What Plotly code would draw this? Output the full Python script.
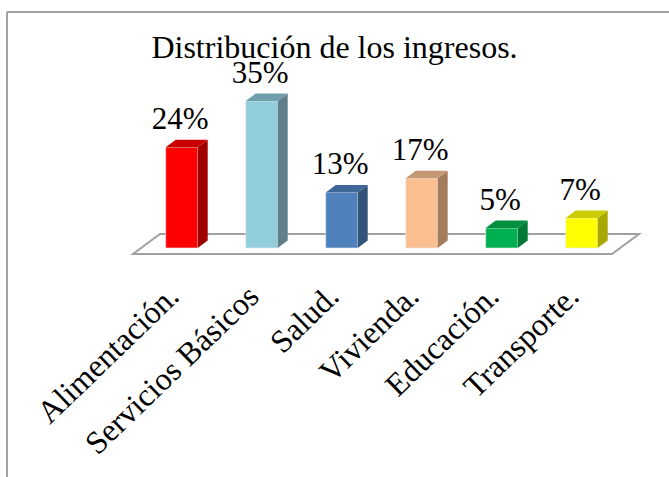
import plotly.graph_objects as go

categorias = ["Alimentación.", "Servicios Básicos", "Salud.", "Vivienda.", "Educación.", "Transporte."]
valores = [24.3, 35.4, 13.4, 16.8, 4.8, 7.2]
etiquetas = ["24%", "35%", "13%", "17%", "5%", "7%"]
frente = ["#FF0000", "#92CDDC", "#4F81BD", "#FBBF8F", "#00B050", "#FFFF00"]
lado = ["#A00000", "#5F8089", "#335378", "#A47C5C", "#007A37", "#A8A800"]
tapa = ["#C80000", "#6F9FAD", "#3F6797", "#C49872", "#009040", "#CCCC00"]

ANCHO = 669
ALTO = 477
FONDO_PLOT = 270
FUENTE = "Liberation Serif"
# pixeles por unidad en cada eje
PX_X = 80
PX_Y = 4.15
X0 = 181.7
Y0 = 248
MEDIO = 0.2
DX = 10 / PX_X
DY = 7.5 / PX_Y
SEP_TEXTO = 3 / PX_Y

fig = go.Figure()
pos = list(range(len(categorias)))

fig.add_trace(go.Bar(x=pos, y=valores, width=MEDIO * 2, marker=dict(color=frente, line=dict(color="#E8EEF2", width=0.6)), hoverinfo="skip"))

for i, v in zip(pos, valores):
    izq = i - MEDIO
    der = i + MEDIO
    fig.add_trace(go.Scatter(x=[der, der + DX, der + DX, der, der], y=[0, DY, v + DY, v, 0],
                             mode="lines", fill="toself", fillcolor=lado[i], line=dict(width=0), hoverinfo="skip"))
    fig.add_trace(go.Scatter(x=[izq, der, der + DX, izq + DX, izq], y=[v, v, v + DY, v + DY, v],
                             mode="lines", fill="toself", fillcolor=tapa[i], line=dict(width=0), hoverinfo="skip"))

fig.add_trace(go.Scatter(x=[p - 1.5 / PX_X for p in pos], y=[v + DY + SEP_TEXTO for v in valores], mode="text", text=etiquetas,
                         textposition="top center", textfont=dict(family=FUENTE, size=31, color="black"), hoverinfo="skip"))

# piso del grafico, va debajo de las barras
piso = dict(izq_f=-48.7 / PX_X, der_f=430.3 / PX_X, izq_a=-21.7 / PX_X, der_a=457.3 / PX_X, y_f=-6 / PX_Y, y_a=14 / PX_Y)
fig.add_shape(type="path", layer="below", line=dict(color="#A0A0A0", width=2),
              path=f"M {piso['izq_f']} {piso['y_f']} L {piso['der_f']} {piso['y_f']} L {piso['der_a']} {piso['y_a']} L {piso['izq_a']} {piso['y_a']} Z")

# marco del recuadro
fig.add_shape(type="line", xref="paper", yref="paper", x0=7 / ANCHO, x1=1, y0=1 - 12 / FONDO_PLOT, y1=1 - 12 / FONDO_PLOT, line=dict(color="#A0A0A0", width=2))
fig.add_shape(type="line", xref="paper", yref="paper", x0=7 / ANCHO, x1=7 / ANCHO, y0=1 - 12 / FONDO_PLOT, y1=1 - ALTO / FONDO_PLOT, line=dict(color="#A0A0A0", width=2))

fig.update_layout(
    width=ANCHO, height=ALTO, showlegend=False,
    paper_bgcolor="white", plot_bgcolor="rgba(0,0,0,0)",
    margin=dict(l=0, r=0, t=0, b=ALTO - FONDO_PLOT),
    font=dict(family=FUENTE, color="black"),
    title=dict(text="Distribución de los ingresos.", font=dict(family=FUENTE, size=32, color="black"),
               x=0.5, xanchor="center", y=1 - 47 / ALTO, yanchor="middle"),
)
fig.update_xaxes(range=[-X0 / PX_X, (ANCHO - X0) / PX_X], tickmode="array", tickvals=pos, ticktext=categorias,
                 tickangle=-44, tickfont=dict(family=FUENTE, size=32, color="black"), ticklabelshift=-12,
                 showgrid=False, zeroline=False, showline=False, ticks="", automargin=False)
fig.update_yaxes(range=[(Y0 - FONDO_PLOT) / PX_Y, Y0 / PX_Y], visible=False)

# sin el margen del body para que el grafico llene la ventana
fig.write_html("out.html", config={"displayModeBar": False}, post_script="document.body.style.margin='0';")
